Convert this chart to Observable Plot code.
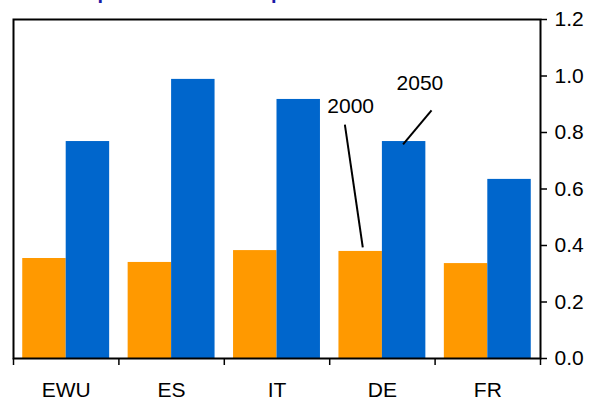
<!DOCTYPE html>
<html>
<head>
<meta charset="utf-8">
<script src="https://cdn.jsdelivr.net/npm/d3@7"></script>
<script src="https://cdn.jsdelivr.net/npm/@observablehq/plot@0.6"></script>
<style>
  html, body { margin: 0; padding: 0; background: #fff; overflow: hidden; }
  #wrap { position: relative; width: 589px; height: 401px; }
  #title { position: absolute; top: -18px; left: 13px; font: bold 20px "Liberation Sans", Arial, sans-serif;
           line-height: 20px; color: #1a1aa6; white-space: nowrap; }
</style>
</head>
<body>
<div id="wrap"><div id="title">Retirees per worker: a sharp rise</div><div id="chart"></div></div>
<script>
const categories = ["EWU", "ES", "IT", "DE", "FR"];
const years = ["2000", "2050"];
const values2000 = [0.354, 0.340, 0.382, 0.379, 0.336];
const values2050 = [0.768, 0.988, 0.917, 0.768, 0.634];
const yTicks = [0, 0.2, 0.4, 0.6, 0.8, 1.0, 1.2];

const data = categories.flatMap((c, i) => [
  {cat: c, i, year: years[0], j: 0, value: values2000[i]},
  {cat: c, i, year: years[1], j: 1, value: values2050[i]}
]);

// band layout inside each category slot
const gap = 0.0877;
const bw = (1 - 2 * gap) / 2;
const x1 = d => d.i + gap + d.j * bw;
const x2 = d => d.i + gap + (d.j + 1) * bw;

const de2000 = data.find(d => d.cat === "DE" && d.year === "2000");
const de2050 = data.find(d => d.cat === "DE" && d.year === "2050");
const mid = d => (x1(d) + x2(d)) / 2;

const leaders = [
  {x1: mid(de2000) - 0.15, y1: de2000.value + 0.449, x2: mid(de2000) + 0.02, y2: de2000.value + 0.014},
  {x1: mid(de2050) + 0.26, y1: de2050.value + 0.11, x2: mid(de2050) - 0.01, y2: de2050.value - 0.01}
];
const labels = [
  {x: mid(de2000) - 0.095, y: de2000.value + 0.513, text: "2000"},
  {x: mid(de2050) + 0.15, y: de2050.value + 0.205, text: "2050"}
];

const font = 21;
const chart = Plot.plot({
  width: 589,
  height: 401,
  marginTop: 19,
  marginBottom: 43,
  marginLeft: 13,
  marginRight: 49,
  style: {fontFamily: '"Liberation Sans", Arial, sans-serif', fontSize: font + "px", color: "#000", background: "#fff"},
  x: {domain: [0, categories.length]},
  y: {domain: [0, 1.2]},
  color: {domain: years, range: ["#FF9900", "#0066CC"]},
  marks: [
    Plot.rectY(data, {x1, x2, y: "value", fill: "year"}),
    Plot.frame({stroke: "#000", strokeWidth: 2}),
    Plot.axisY(yTicks, {anchor: "right", tickSize: 6, tickPadding: 8, tickFormat: d3.format(".1f"), strokeWidth: 1.5, label: null, fontSize: font}),
    Plot.axisX(d3.range(categories.length + 1), {tickSize: 7, tickFormat: () => "", strokeWidth: 1.5, label: null}),
    Plot.axisX(categories.map((c, i) => i + 0.5), {tickSize: 0, tickPadding: 24, tickFormat: d => categories[Math.floor(d)], label: null, fontSize: font}),
    Plot.link(leaders, {x1: "x1", y1: "y1", x2: "x2", y2: "y2", stroke: "#000", strokeWidth: 2}),
    Plot.text(labels, {x: "x", y: "y", text: "text", fontSize: font, fill: "#000"})
  ]
});
document.getElementById("chart").appendChild(chart);
</script>
</body>
</html>
